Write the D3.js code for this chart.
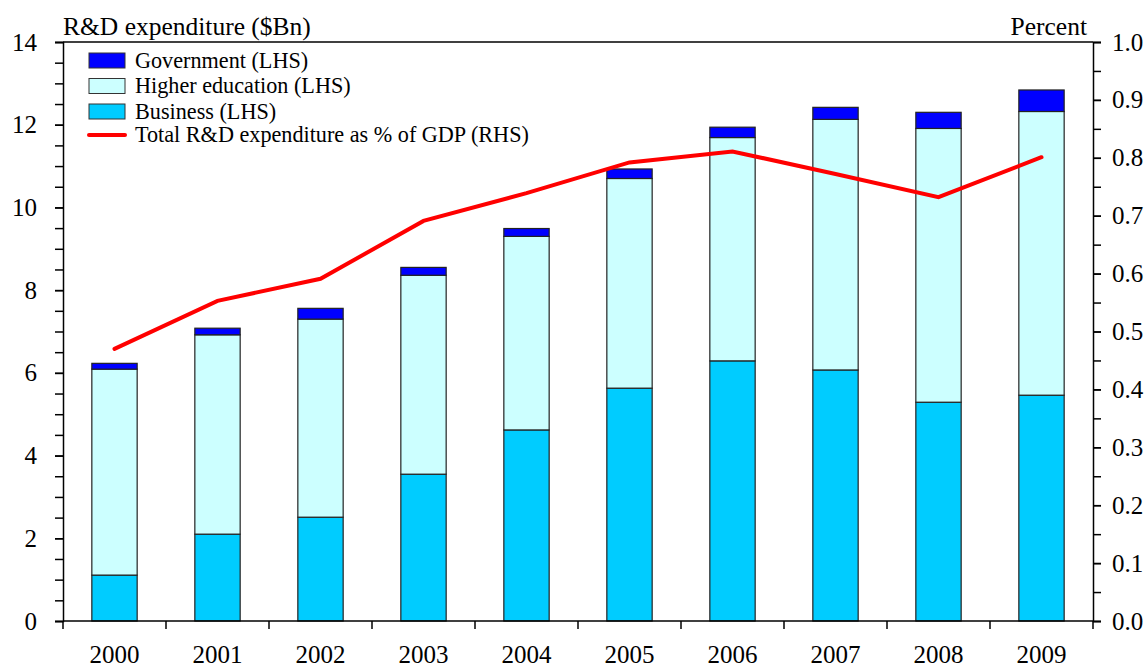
<!DOCTYPE html>
<html>
<head>
<meta charset="utf-8">
<script src="https://cdn.jsdelivr.net/npm/d3@7"></script>
<style>
  html, body { margin: 0; padding: 0; background: #fff; }
  svg { display: block; font-family: "Liberation Serif", "Times New Roman", serif; }
</style>
</head>
<body>
<svg id="chart" width="1147" height="664"></svg>
<script>
const years = ["2000","2001","2002","2003","2004","2005","2006","2007","2008","2009"];
const business = [1.11, 2.10, 2.51, 3.55, 4.62, 5.63, 6.29, 6.07, 5.29, 5.46];
const higherEd = [4.98, 4.82, 4.79, 4.81, 4.68, 5.07, 5.40, 6.06, 6.62, 6.86];
const government = [0.14, 0.16, 0.26, 0.19, 0.19, 0.23, 0.25, 0.29, 0.39, 0.52];
const gdpPct = [0.47, 0.553, 0.591, 0.691, 0.739, 0.792, 0.811, 0.772, 0.732, 0.801];
const leftTicks = [0, 2, 4, 6, 8, 10, 12, 14];
const rightTicks = [0, 0.1, 0.2, 0.3, 0.4, 0.5, 0.6, 0.7, 0.8, 0.9, 1.0];
const seriesNames = ["Government (LHS)", "Higher education (LHS)", "Business (LHS)", "Total R&D expenditure as % of GDP (RHS)"];
const colors = { business: "#00CCFF", higherEd: "#CCFFFF", government: "#0000FF", line: "#FF0000" };

const svg = d3.select("#chart");
const L = 63, R = 1093, T = 42, B = 621;

const x = d3.scaleBand().domain(years).range([L, R]).padding(0);
const yL = d3.scaleLinear().domain([0, 14]).range([B, T]);
const yR = d3.scaleLinear().domain([0, 1]).range([B, T]);
const bw = x.bandwidth();
const barFrac = 0.44;

// stacked bars
const rows = years.map((yr, i) => ({ year: yr, business: business[i], higherEd: higherEd[i], government: government[i] }));
const keys = ["business", "higherEd", "government"];
const stack = d3.stack().keys(keys)(rows);

const gBars = svg.append("g");
stack.forEach(layer => {
  gBars.selectAll(null).data(layer).enter().append("rect")
    .attr("x", d => x(d.data.year) + bw * (1 - barFrac) / 2)
    .attr("width", bw * barFrac)
    .attr("y", d => yL(d[1]))
    .attr("height", d => yL(d[0]) - yL(d[1]))
    .attr("fill", colors[layer.key])
    .attr("stroke", "#222")
    .attr("stroke-width", 1.2);
});

// line
const line = d3.line()
  .x((d, i) => x(years[i]) + bw / 2)
  .y(d => yR(d));
svg.append("path").datum(gdpPct)
  .attr("d", line)
  .attr("fill", "none")
  .attr("stroke", colors.line)
  .attr("stroke-width", 4)
  .attr("stroke-linejoin", "miter")
  .attr("stroke-linecap", "round");

// frame
svg.append("line").attr("x1", L).attr("x2", R).attr("y1", T).attr("y2", T).attr("stroke", "#000").attr("stroke-width", 1.5);

// left axis
const minorL = d3.range(0, 14.01, 0.5);
svg.append("g").attr("transform", `translate(${L},0)`)
  .call(d3.axisLeft(yL).tickValues(minorL).tickSize(8).tickFormat(""))
  .call(g => g.select(".domain").attr("stroke-width", 1.5))
  .call(g => g.selectAll(".tick line").attr("stroke-width", 1.5));
svg.append("g").attr("transform", `translate(${L},0)`)
  .call(d3.axisLeft(yL).tickValues(leftTicks).tickSize(8).tickPadding(18).tickFormat(d3.format("d")))
  .call(g => g.select(".domain").remove())
  .call(g => g.selectAll(".tick line").attr("stroke-width", 1.5))
  .call(g => g.selectAll("text").attr("font-size", 25).attr("fill", "#000").attr("font-family", "Liberation Serif"));

// right axis
const minorR = d3.range(0, 1.001, 0.05);
svg.append("g").attr("transform", `translate(${R},0)`)
  .call(d3.axisRight(yR).tickValues(minorR).tickSize(8).tickFormat(""))
  .call(g => g.select(".domain").attr("stroke-width", 1.5))
  .call(g => g.selectAll(".tick line").attr("stroke-width", 1.5));
svg.append("g").attr("transform", `translate(${R},0)`)
  .call(d3.axisRight(yR).tickValues(rightTicks).tickSize(8).tickPadding(11).tickFormat(d3.format(".1f")))
  .call(g => g.select(".domain").remove())
  .call(g => g.selectAll(".tick line").attr("stroke-width", 1.5))
  .call(g => g.selectAll("text").attr("font-size", 25).attr("fill", "#000").attr("font-family", "Liberation Serif"));

// bottom axis
const gx = svg.append("g").attr("transform", `translate(0,${B})`)
  .call(d3.axisBottom(x).tickSize(0).tickPadding(24))
  .call(g => g.select(".domain").attr("stroke-width", 1.5).attr("d", `M${L},0H${R}`))
  .call(g => g.selectAll("text").attr("font-size", 25).attr("fill", "#000").attr("font-family", "Liberation Serif"));
const bounds = years.map(yr => x(yr)).concat([x(years[years.length - 1]) + bw]);
gx.selectAll(".bound").data(bounds).enter().append("line")
  .attr("x1", d => d).attr("x2", d => d).attr("y1", 0).attr("y2", 8)
  .attr("stroke", "#000").attr("stroke-width", 1.5);

// axis titles
svg.append("text").attr("x", L).attr("y", 35).attr("font-size", 25.5).text("R&D expenditure ($Bn)");
svg.append("text").attr("x", 1087).attr("y", 35).attr("font-size", 25.5).attr("text-anchor", "end").text("Percent");

// legend
const leg = svg.append("g");
const legRows = [
  { name: seriesNames[0], type: "rect", color: colors.government, cy: 60.5 },
  { name: seriesNames[1], type: "rect", color: colors.higherEd, cy: 86 },
  { name: seriesNames[2], type: "rect", color: colors.business, cy: 111.5 },
  { name: seriesNames[3], type: "line", color: colors.line, cy: 135 }
];
legRows.forEach(r => {
  if (r.type === "rect") {
    leg.append("rect").attr("x", 89).attr("y", r.cy - 7.5).attr("width", 36).attr("height", 15)
      .attr("fill", r.color).attr("stroke", "#333").attr("stroke-width", 1);
  } else {
    leg.append("line").attr("x1", 89).attr("x2", 125).attr("y1", r.cy).attr("y2", r.cy)
      .attr("stroke", r.color).attr("stroke-width", 4).attr("stroke-linecap", "round");
  }
  leg.append("text").attr("x", 135).attr("y", r.cy + 7).attr("font-size", 22.2).text(r.name);
});
</script>
</body>
</html>
